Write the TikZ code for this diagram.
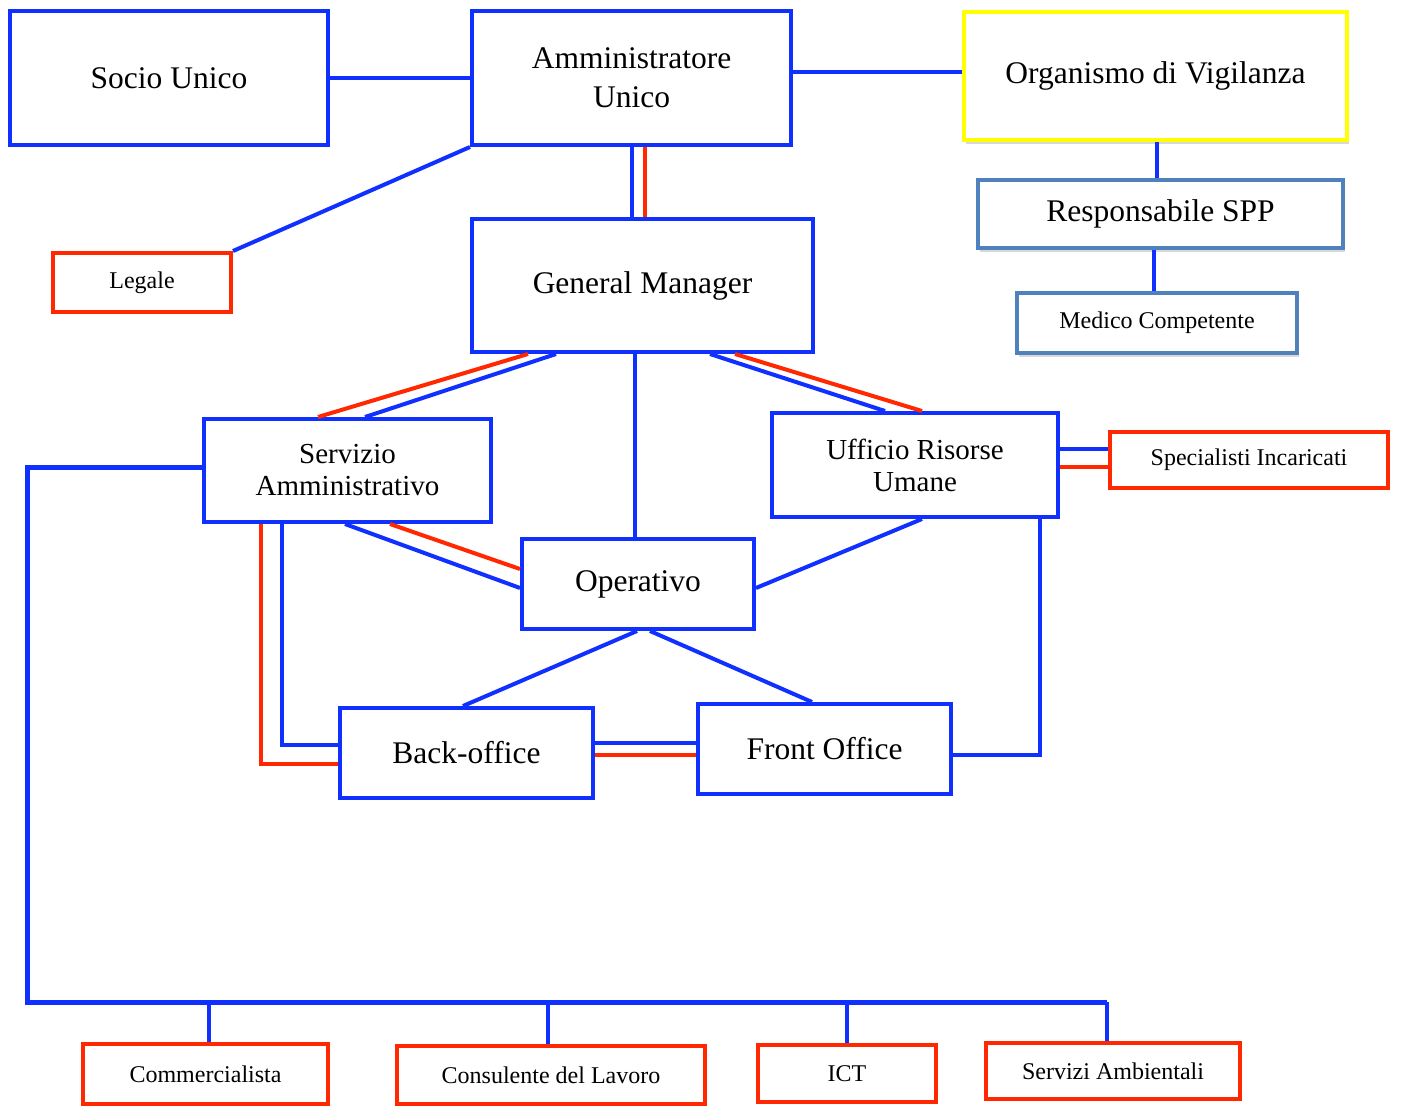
\documentclass[tikz,border=0pt]{standalone}
\usepackage{fontspec}
\setmainfont{Liberation Serif}
\usetikzlibrary{shadows}
\definecolor{bl}{RGB}{16,48,255}
\definecolor{rd}{RGB}{255,40,0}
\definecolor{yl}{RGB}{255,255,0}
\definecolor{st}{RGB}{79,129,189}
\tikzset{
  box/.style={draw=bl,line width=4pt,fill=white,inner sep=0pt,align=center,text=black},
  redbox/.style={box,draw=rd},
  shbox/.style={box,drop shadow={shadow xshift=2pt,shadow yshift=-4pt,opacity=0.3,fill=gray}},
  big/.style={font=\fontsize{31.5}{39}\selectfont},
  mid/.style={font=\fontsize{29}{32}\selectfont},
  small/.style={font=\fontsize{24}{28}\selectfont},
  bline/.style={draw=bl,line width=4pt},
  rline/.style={draw=rd,line width=4pt},
}
\begin{document}
\begin{tikzpicture}[x=1pt,y=-1pt]
\useasboundingbox[fill=white] (0,0) rectangle (1403,1106);
% nodes
\node[box,big,minimum width=318pt,minimum height=134pt] (socio) at (169,78) {Socio Unico};
\node[box,big,minimum width=319pt,minimum height=134pt] (amm) at (631.5,78) {Amministratore\\Unico};
\node[shbox,big,draw=yl,minimum width=383pt,minimum height=128pt] (org) at (1155.5,76) {Organismo di Vigilanza};
\node[shbox,big,draw=st,minimum width=365pt,minimum height=68pt] (resp) at (1160.5,214) {Responsabile SPP};
\node[shbox,small,draw=st,minimum width=280pt,minimum height=60pt] (med) at (1157,323) {Medico Competente};
\node[redbox,small,minimum width=178pt,minimum height=59pt] (leg) at (142,282.5) {Legale};
\node[box,big,minimum width=341pt,minimum height=133pt] (gm) at (642.5,285.5) {General Manager};
\node[box,mid,minimum width=287pt,minimum height=103pt] (serv) at (347.5,470.5) {Servizio\\Amministrativo};
\node[box,mid,minimum width=286pt,minimum height=104pt] (uff) at (915,465) {Ufficio Risorse\\Umane};
\node[redbox,small,minimum width=278pt,minimum height=56pt] (spec) at (1249,460) {Specialisti Incaricati};
\node[box,big,minimum width=232pt,minimum height=90pt] (oper) at (638,584) {Operativo};
\node[box,big,minimum width=253pt,minimum height=90pt] (back) at (466.5,753) {Back-office};
\node[box,big,minimum width=253pt,minimum height=90pt] (front) at (824.5,749) {Front Office};
\node[redbox,small,minimum width=245pt,minimum height=60pt] (comm) at (205.5,1074) {Commercialista};
\node[redbox,small,minimum width=308pt,minimum height=58pt] (cons) at (551,1075) {Consulente del Lavoro};
\node[redbox,small,minimum width=178pt,minimum height=57pt] (ict) at (847,1073.5) {ICT};
\node[redbox,small,minimum width=254pt,minimum height=56pt] (amb) at (1113,1071) {Servizi Ambientali};
% connectors
\draw[bline] (socio.east) -- (amm.west);
\draw[bline] ([yshift=6pt]amm.east) -- ([yshift=4pt]org.west);
\draw[bline] (amm.south west) -- (leg.north east);
\draw[bline] (amm.south) -- (amm.south |- gm.north);
\draw[rline] ([xshift=13.5pt]amm.south) -- ([xshift=2.5pt]gm.north);
\draw[bline] ([xshift=1.5pt]org.south) -- ([xshift=-3.5pt]resp.north);
\draw[bline] ([xshift=-6.5pt]resp.south) -- ([xshift=-3pt]med.north);
\draw[rline] ([xshift=-114.5pt]gm.south) -- ([xshift=-29.5pt]serv.north);
\draw[bline] ([xshift=-86.5pt]gm.south) -- ([xshift=17.5pt]serv.north);
\draw[bline] ([xshift=67.5pt]gm.south) -- ([xshift=-30pt]uff.north);
\draw[rline] ([xshift=92.5pt]gm.south) -- ([xshift=7pt]uff.north);
\draw[bline] ([xshift=-7.5pt]gm.south) -- ([xshift=-3pt]oper.north);
\draw[bline] ([xshift=-2.5pt]serv.south) -- ([yshift=-4pt]oper.west);
\draw[rline] ([xshift=42.5pt]serv.south) -- ([yshift=15pt]oper.west);
\draw[bline] ([xshift=7pt]uff.south) -- ([yshift=-4pt]oper.east);
\draw[rline] ([xshift=59pt]serv.south west) |- ([yshift=-11pt]back.west);
\draw[bline] ([xshift=80pt]serv.south west) |- ([yshift=8pt]back.west);
\draw[bline] ([xshift=-1pt]oper.south) -- ([xshift=-3.5pt]back.north);
\draw[bline] ([xshift=12pt]oper.south) -- ([xshift=-12.5pt]front.north);
\draw[bline] ([yshift=10pt]back.east) -- ([yshift=6pt]front.west);
\draw[rline] ([yshift=-2pt]back.east) -- ([yshift=-6pt]front.west);
\draw[bline] ([xshift=-20pt]uff.south east) |- ([yshift=-6pt]front.east);
\draw[bline] ([yshift=16pt]uff.east) -- ([yshift=11pt]spec.west);
\draw[rline] ([yshift=-2pt]uff.east) -- ([yshift=-7pt]spec.west);
% bus
\coordinate (busL) at (27,1002);
\coordinate (busR) at (1107,1002);
\path ([xshift=3.5pt]comm.north) coordinate (d1)
      ([xshift=-3pt]cons.north) coordinate (d2)
      (ict.north) coordinate (d3)
      ([xshift=-6pt]amb.north) coordinate (d4);
\draw[bline] (d1) -- (d1 |- busL);
\draw[bline] (d2) -- (d2 |- busL);
\draw[bline] (d3) -- (d3 |- busL);
\draw[bline] (d4) -- (d4 |- busL);
\draw[bline,line width=5pt,line join=miter] ([yshift=3.5pt]serv.west) -| (busL) -- (busR);
\end{tikzpicture}
\end{document}
